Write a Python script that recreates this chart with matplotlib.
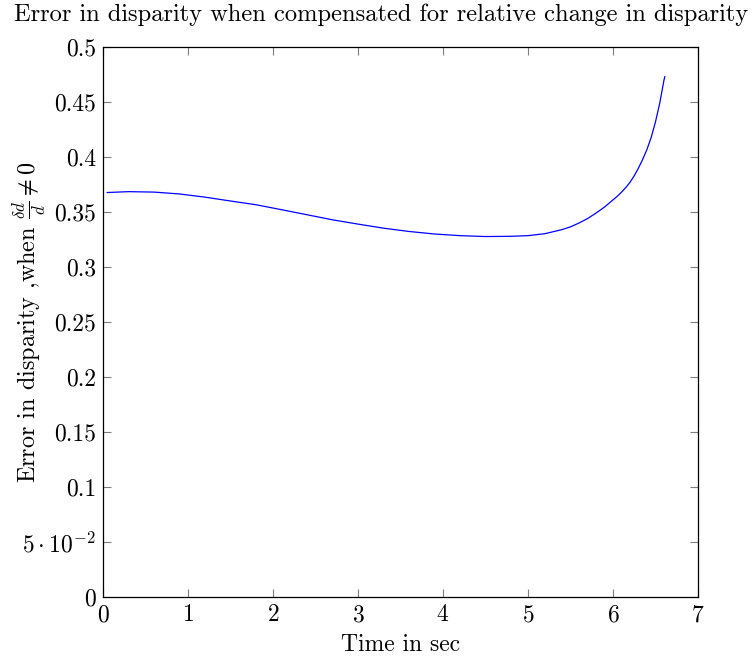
import matplotlib
matplotlib.use("Agg")
import matplotlib.pyplot as plt
from matplotlib.ticker import FixedLocator, FixedFormatter

plt.rcParams["font.family"] = "cmr10"
plt.rcParams["mathtext.fontset"] = "cm"
plt.rcParams["axes.formatter.use_mathtext"] = True

# values
time_sec = [0.05, 0.3, 0.6, 0.9, 1.2, 1.5, 1.8, 2.1, 2.4, 2.7, 3.0, 3.3, 3.6,
            3.9, 4.2, 4.5, 4.8, 5.0, 5.2, 5.4, 5.5, 5.6, 5.7, 5.8, 5.9, 6.0,
            6.05, 6.1, 6.15, 6.2, 6.25, 6.3, 6.35, 6.4, 6.45, 6.5, 6.55, 6.6,
            6.61]
error = [0.3677, 0.3685, 0.3681, 0.3664, 0.3635, 0.3600, 0.3566, 0.3521,
         0.3475, 0.3429, 0.3390, 0.3353, 0.3323, 0.3300, 0.3285, 0.3277,
         0.3279, 0.3285, 0.3303, 0.3340, 0.3365, 0.3400, 0.3440, 0.3490,
         0.3545, 0.3610, 0.3643, 0.3680, 0.3722, 0.3770, 0.3830, 0.3900,
         0.3980, 0.4070, 0.4180, 0.4320, 0.4490, 0.4700, 0.4730]

yticks = [0, 0.05, 0.1, 0.15, 0.2, 0.25, 0.3, 0.35, 0.4, 0.45, 0.5]
ylabels = ["0", r"$5\cdot10^{-2}$", "0.1", "0.15", "0.2", "0.25", "0.3",
           "0.35", "0.4", "0.45", "0.5"]

fs = 17

fig = plt.figure(figsize=(7.52, 6.6), dpi=100)
ax = fig.add_axes([103/752, 1 - 597/660, 595/752, 550/660])
ax.plot(time_sec, error, color="blue", lw=0.9)

ax.set_xlim(0, 7)
ax.set_ylim(0, 0.5)
ax.xaxis.set_major_locator(FixedLocator(range(8)))
ax.yaxis.set_major_locator(FixedLocator(yticks))
ax.yaxis.set_major_formatter(FixedFormatter(ylabels))
ax.tick_params(direction="in", length=6, width=0.8, color="#7f7f7f",
               top=True, right=True, labelsize=fs, pad=5)
for s in ax.spines.values():
    s.set_linewidth(0.9)

ax.set_xlabel("Time in sec", fontsize=fs)
ax.xaxis.set_label_coords(0.5, -(634 - 597) / 550)
ax.set_ylabel(r"Error in disparity ,when $\frac{\delta d}{d} \neq 0$",
              fontsize=fs + 0.4)
ax.yaxis.set_label_coords(-(103 - 48) / 595, 0.5)
fig.text(381/752, 1 - 15/660, "Error in disparity when compensated for relative change in disparity",
         ha="center", va="center", fontsize=17.6)

fig.savefig("out.png", dpi=100)
